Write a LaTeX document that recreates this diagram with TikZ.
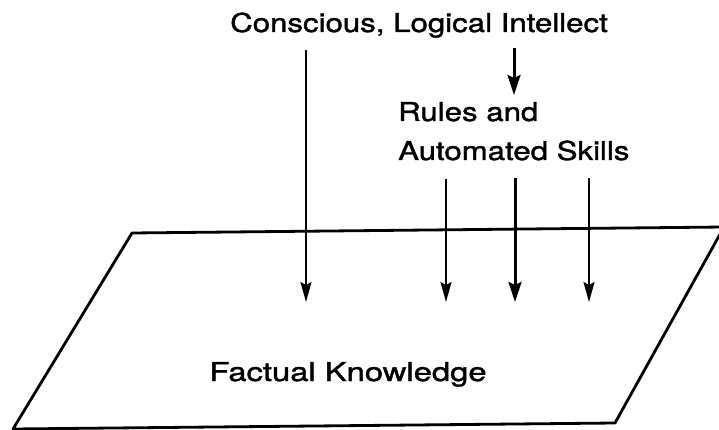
\documentclass[tikz,border=0pt]{standalone}
\usepackage{fontspec}
\setmainfont{TeX Gyre Heros}
\newfontfamily\lblfont{TeX Gyre Heros}[FakeBold=1.3]
\usetikzlibrary{arrows.meta}
\begin{document}
\begin{tikzpicture}[x=1pt,y=-1pt,
  lbl/.style={inner sep=0pt,font=\fontsize{26}{30}\lblfont},
  thinarrow/.style={line width=1.6pt,-{Stealth[length=20pt,width=11pt,inset=3pt]}},
  thickarrow/.style={line width=3pt,-{Stealth[length=20pt,width=13pt,inset=3pt]}},
  plane/.style={line width=2.8pt,line join=round}]
\useasboundingbox (0,0) rectangle (719,430);
\begin{scope}
\clip (0,0) rectangle (719,430);
\draw[plane] (132,233) -- (724,227) -- (615,423) -- (13,429) -- cycle;
\end{scope}
\node[lbl,anchor=base] (top) at (419,32) {\scalebox{1.2}[1]{Conscious, Logical Intellect}};
\node[lbl,anchor=base west] (rules) at (398,121) {\scalebox{1.2}[1]{Rules and}};
\node[lbl,anchor=base west] (auto) at (398,160) {\scalebox{1.2}[1]{Automated Skills}};
\node[lbl,anchor=base] (fact) at (348,381) {\scalebox{1.26}[1]{Factual Knowledge}};
\coordinate (c1s) at (306,50);  \coordinate (c1e) at (306,302);
\coordinate (c2s) at (514,48);  \coordinate (c2e) at (514,95);
\coordinate (r1s) at (446,179); \coordinate (r1e) at (446,302);
\coordinate (r2s) at (515,178); \coordinate (r2e) at (515,302);
\coordinate (r3s) at (589,178); \coordinate (r3e) at (589,302);
\draw[thinarrow] (c1s) -- (c1e);
\draw[thickarrow] (c2s) -- (c2e);
\draw[thinarrow,line width=2pt] (r1s) -- (r1e);
\draw[thickarrow] (r2s) -- (r2e);
\draw[thinarrow,line width=2pt] (r3s) -- (r3e);
\end{tikzpicture}
\end{document}
